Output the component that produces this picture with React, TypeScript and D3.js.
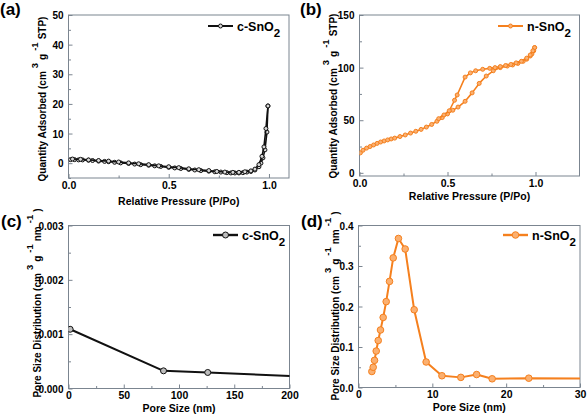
import React, { useEffect, useRef } from "react";
import * as d3 from "d3";

// ---- Data ----
// (a) c-SnO2 isotherm
const aAdsP = [0.01,0.03,0.05,0.07,0.1,0.12,0.15,0.18,0.2,0.23,0.26,0.3,0.33,0.36,0.4,0.43,0.46,0.5,0.53,0.56,0.6,0.63,0.66,0.7,0.73,0.76,0.79,0.81,0.83,0.85,0.87,0.89,0.91,0.93,0.95,0.96,0.97,0.98,0.99,0.995];
const aAdsV = [1.2,1.2,1.1,1.1,1.0,0.9,0.7,0.6,0.5,0.3,0.1,-0.1,-0.3,-0.5,-0.7,-0.9,-1.1,-1.4,-1.6,-1.8,-2.1,-2.3,-2.5,-2.7,-2.9,-3.0,-3.2,-3.3,-3.3,-3.3,-3.2,-3.0,-2.8,-2.3,-1.2,0.0,1.8,4.5,10.5,19.3];
const aDesP = [0.995,0.985,0.975,0.965,0.95,0.93,0.91,0.88,0.85,0.82,0.78,0.74,0.7,0.65,0.6,0.55,0.5,0.45,0.4,0.35,0.3,0.25,0.2,0.15,0.1,0.06,0.02];
const aDesV = [19.3,11.7,5.5,2.3,-0.5,-2.0,-2.6,-2.9,-3.1,-3.1,-3.0,-2.8,-2.5,-2.2,-1.9,-1.5,-1.2,-0.9,-0.5,-0.2,0.1,0.4,0.7,0.9,1.1,1.3,1.4];

// (b) n-SnO2 isotherm
const bAdsP = [0.005,0.02,0.04,0.06,0.08,0.1,0.12,0.14,0.16,0.18,0.2,0.23,0.26,0.29,0.32,0.35,0.38,0.41,0.44,0.47,0.5,0.53,0.56,0.6,0.64,0.68,0.72,0.76,0.8,0.84,0.87,0.9,0.93,0.95,0.97,0.98,0.99,0.995];
const bAdsV = [19,21.5,23.5,25,26.5,28,29.3,30.3,31.3,32.2,33,34.5,36,37.8,39.5,41.3,43.5,46,49,52.5,56,59.5,62.5,68,76,85,92,97,100,101.5,102.5,104,106,108,111,113,116,119];
const bDesP = [0.995,0.985,0.97,0.95,0.92,0.89,0.86,0.83,0.8,0.77,0.74,0.7,0.66,0.63,0.6,0.555,0.54,0.51,0.48,0.45];
const bDesV = [119,116,112,109,106,104.5,103,102,101,100,99.3,98.4,97,95,91,74,69,59,55,51.5];

// (c) c-SnO2 pore size distribution
const cSize = [1.5, 86, 126, 230];
const cDist = [0.00109, 0.000325, 0.000295, 0.000207];

// (d) n-SnO2 pore size distribution
const dSize = [1.81,1.99,2.17,2.4,2.67,2.98,3.34,3.75,4.2,4.7,5.41,6.32,7.54,9.16,11.3,13.86,16.0,18.1,23.06,33];
const dDist = [0.0395,0.05,0.067,0.09,0.116,0.142,0.173,0.212,0.262,0.32,0.368,0.342,0.192,0.063,0.029,0.025,0.032,0.0215,0.023,0.022];

// tick values
const aXTicks = [0, 0.5, 1.0];
const aXMinor = [0.25, 0.75];
const aYTicks = [0, 10, 20, 30, 40, 50];
const aYMinor = [-5, 5, 15, 25, 35, 45];
const bXTicks = [0, 0.5, 1.0];
const bXMinor = [0.25, 0.75];
const bYTicks = [0, 50, 100, 150];
const bYMinor = [25, 75, 125];
const cXTicks = [0, 50, 100, 150, 200];
const cXMinor = [25, 75, 125, 175];
const cYTicks = [0, 0.001, 0.002, 0.003];
const cYMinor = [0.0005, 0.0015, 0.0025];
const dXTicks = [0, 10, 20, 30];
const dXMinor = [5, 15, 25];
const dYTicks = [0, 0.1, 0.2, 0.3, 0.4];
const dYMinor = [0.05, 0.15, 0.25, 0.35];

const FONT = "Arial, 'Liberation Sans', sans-serif";
const FRAME = "#7b8590";
const ORANGE = "#f5801e";
const ORANGE_FILL = "#fbb070";

type Part = [string, "n" | "sup"];

interface Panel {
  key: string;
  left: number; right: number; top: number; bottom: number;
  xDomain: [number, number]; yDomain: [number, number];
  xTicks: number[]; xMinor: number[]; yTicks: number[]; yMinor: number[];
  xFmt: (v: number) => string; yFmt: (v: number) => string;
  series: { xs: number[]; ys: number[] }[];
  color: string; fill: string; r: number; lw: number;
  legend: string; legendX: number; legendY: number;
  label: string; labelX: number; labelY: number;
  xTitle: string; xTitleOff: number;
  yTitle: Part[]; yTitleX: number; yTitleY: number;
}

const f1 = (v: number) => d3.format(".1f")(v);
const f0 = (v: number) => d3.format("d")(v);
const f3 = (v: number) => d3.format(".3f")(v);

const isoTitle: Part[] = [["Quantity Adsorbed (cm", "n"], ["3", "sup"], ["g", "n"], ["-1", "sup"], ["STP)", "n"]];
const psdTitle: Part[] = [["Pore Size Distribution (cm", "n"], ["3", "sup"], ["g", "n"], ["-1", "sup"], ["nm", "n"], ["-1", "sup"], [")", "n"]];

const panels: Panel[] = [
  {
    key: "a", left: 68.5, right: 289, top: 15, bottom: 178,
    xDomain: [0, 1.1], yDomain: [-5, 50],
    xTicks: aXTicks, xMinor: aXMinor, yTicks: aYTicks, yMinor: aYMinor,
    xFmt: f1, yFmt: f0,
    series: [{ xs: aAdsP, ys: aAdsV }, { xs: aDesP, ys: aDesV }],
    color: "#111", fill: "#d8d8d8", r: 2, lw: 1.6,
    legend: "c-SnO", legendX: 208, legendY: 26,
    label: "(a)", labelX: 0, labelY: 15,
    xTitle: "Relative Pressure (P/Po)", xTitleOff: 27,
    yTitle: isoTitle, yTitleX: 46, yTitleY: 99,
  },
  {
    key: "b", left: 359.5, right: 579.5, top: 15, bottom: 176,
    xDomain: [0, 1.25], yDomain: [-3, 150],
    xTicks: bXTicks, xMinor: bXMinor, yTicks: bYTicks, yMinor: bYMinor,
    xFmt: f1, yFmt: f0,
    series: [{ xs: bAdsP, ys: bAdsV }, { xs: bDesP, ys: bDesV }],
    color: ORANGE, fill: ORANGE_FILL, r: 2, lw: 1.6,
    legend: "n-SnO", legendX: 498, legendY: 26,
    label: "(b)", labelX: 300, labelY: 15,
    xTitle: "Relative Pressure (P/Po)", xTitleOff: 24,
    yTitle: isoTitle, yTitleX: 337, yTitleY: 96,
  },
  {
    key: "c", left: 68.5, right: 289.5, top: 225.5, bottom: 388.5,
    xDomain: [0, 200], yDomain: [0, 0.003],
    xTicks: cXTicks, xMinor: cXMinor, yTicks: cYTicks, yMinor: cYMinor,
    xFmt: f0, yFmt: f3,
    series: [{ xs: cSize, ys: cDist }],
    color: "#111", fill: "#bdbdbd", r: 3, lw: 2,
    legend: "c-SnO", legendX: 213, legendY: 235,
    label: "(c)", labelX: 1, labelY: 227,
    xTitle: "Pore Size (nm)", xTitleOff: 23,
    yTitle: psdTitle, yTitleX: 40.5, yTitleY: 303,
  },
  {
    key: "d", left: 358.5, right: 580, top: 225.5, bottom: 387.5,
    xDomain: [0, 30], yDomain: [0, 0.4],
    xTicks: dXTicks, xMinor: dXMinor, yTicks: dYTicks, yMinor: dYMinor,
    xFmt: f0, yFmt: f1,
    series: [{ xs: dSize, ys: dDist }],
    color: ORANGE, fill: ORANGE_FILL, r: 3.3, lw: 2,
    legend: "n-SnO", legendX: 503, legendY: 235,
    label: "(d)", labelX: 301, labelY: 227,
    xTitle: "Pore Size (nm)", xTitleOff: 23,
    yTitle: psdTitle, yTitleX: 339, yTitleY: 306,
  },
];

function drawPanel(svg: d3.Selection<SVGSVGElement, unknown, null, undefined>, p: Panel) {
  const x = d3.scaleLinear().domain(p.xDomain).range([p.left, p.right]);
  const y = d3.scaleLinear().domain(p.yDomain).range([p.bottom, p.top]);
  const g = svg.append("g");
  const clipId = "clip-" + p.key;
  g.append("clipPath").attr("id", clipId).append("rect")
    .attr("x", p.left).attr("y", p.top - 5)
    .attr("width", p.right - p.left).attr("height", p.bottom - p.top + 5);

  const styleAxis = (ax: d3.Selection<SVGGElement, unknown, null, undefined>, fs: number) => {
    ax.attr("font-family", FONT).attr("font-size", fs).attr("font-weight", "bold").attr("fill", "#000");
    ax.select(".domain").remove();
    ax.selectAll("line").attr("stroke", FRAME).attr("stroke-width", 1);
    ax.selectAll("text").attr("fill", "#000");
  };

  // x axis
  const gx = g.append("g").attr("transform", `translate(0,${p.bottom})`);
  gx.call(d3.axisBottom(x).tickValues(p.xTicks).tickSizeInner(-4).tickSizeOuter(0).tickFormat((v) => p.xFmt(+v)));
  styleAxis(gx, 10.5);
  gx.selectAll("text").attr("y", 10.5).attr("dy", 0);
  const gxm = g.append("g").attr("transform", `translate(0,${p.bottom})`);
  gxm.call(d3.axisBottom(x).tickValues(p.xMinor).tickSizeInner(-2.5).tickSizeOuter(0).tickFormat(() => ""));
  styleAxis(gxm, 10.5);

  // y axis
  const gy = g.append("g").attr("transform", `translate(${p.left},0)`);
  gy.call(d3.axisLeft(y).tickValues(p.yTicks).tickSizeInner(-4).tickSizeOuter(0).tickFormat((v) => p.yFmt(+v)));
  styleAxis(gy, 10);
  gy.selectAll("text").attr("x", -5).attr("dy", "0.35em");
  const gym = g.append("g").attr("transform", `translate(${p.left},0)`);
  gym.call(d3.axisLeft(y).tickValues(p.yMinor.filter((v) => v >= p.yDomain[0] && v <= p.yDomain[1])).tickSizeInner(-2.5).tickSizeOuter(0).tickFormat(() => ""));
  styleAxis(gym, 10);

  // frame
  g.append("rect")
    .attr("x", p.left).attr("y", p.top)
    .attr("width", p.right - p.left).attr("height", p.bottom - p.top)
    .attr("fill", "none").attr("stroke", FRAME).attr("stroke-width", 1);

  // data
  const line = d3.line<[number, number]>().x((d) => x(d[0])).y((d) => y(d[1]));
  const dg = g.append("g").attr("clip-path", `url(#${clipId})`);
  p.series.forEach((s) => {
    const pts: [number, number][] = s.xs.map((v, i) => [v, s.ys[i]]);
    dg.append("path").attr("d", line(pts) || "").attr("fill", "none")
      .attr("stroke", p.color).attr("stroke-width", p.lw).attr("stroke-linejoin", "round");
    dg.selectAll(null).data(pts).enter().append("circle")
      .attr("cx", (d) => x(d[0])).attr("cy", (d) => y(d[1])).attr("r", p.r)
      .attr("fill", p.fill).attr("stroke", p.color).attr("stroke-width", 1);
  });

  // legend
  const lg = g.append("g");
  lg.append("line").attr("x1", p.legendX).attr("x2", p.legendX + 25)
    .attr("y1", p.legendY).attr("y2", p.legendY)
    .attr("stroke", p.color).attr("stroke-width", p.lw + 0.4);
  lg.append("circle").attr("cx", p.legendX + 12.5).attr("cy", p.legendY).attr("r", p.r)
    .attr("fill", p.fill).attr("stroke", p.color).attr("stroke-width", 1);
  const lt = lg.append("text").attr("x", p.legendX + 29).attr("y", p.legendY + 5)
    .attr("font-family", FONT).attr("font-size", 12.5).attr("font-weight", "bold").attr("fill", "#000");
  lt.append("tspan").text(p.legend);
  lt.append("tspan").attr("dy", 6).attr("font-size", 11.5).text("2");

  // panel label
  g.append("text").attr("x", p.labelX).attr("y", p.labelY)
    .attr("font-family", FONT).attr("font-size", 17).attr("font-weight", "bold").attr("fill", "#000")
    .text(p.label);

  // x title
  g.append("text").attr("x", (p.left + p.right) / 2).attr("y", p.bottom + p.xTitleOff)
    .attr("text-anchor", "middle")
    .attr("font-family", FONT).attr("font-size", 10.5).attr("font-weight", "bold").attr("fill", "#000")
    .text(p.xTitle);

  // y title
  const yt = g.append("text")
    .attr("transform", `translate(${p.yTitleX},${p.yTitleY}) rotate(-90)`)
    .attr("text-anchor", "middle")
    .attr("font-family", FONT).attr("font-size", 10).attr("font-weight", "bold").attr("fill", "#000");
  let prev: "n" | "sup" | "" = "";
  p.yTitle.forEach(([t, k]) => {
    const ts = yt.append("tspan").text(t);
    if (prev !== "") ts.attr("dx", 3);
    if (k === "sup") {
      ts.attr("dy", prev === "sup" ? 0 : -8).attr("font-size", 9.5);
    } else if (prev === "sup") {
      ts.attr("dy", 8);
    }
    prev = k;
  });
}

export default function App() {
  const ref = useRef<SVGSVGElement>(null);
  useEffect(() => {
    if (!ref.current) return;
    const svg = d3.select(ref.current);
    svg.selectAll("*").remove();
    panels.forEach((p) => drawPanel(svg, p));
  }, []);
  return (
    <svg
      ref={ref}
      width={587}
      height={415}
      style={{ position: "absolute", left: 0, top: 0, background: "#fff" }}
    />
  );
}
